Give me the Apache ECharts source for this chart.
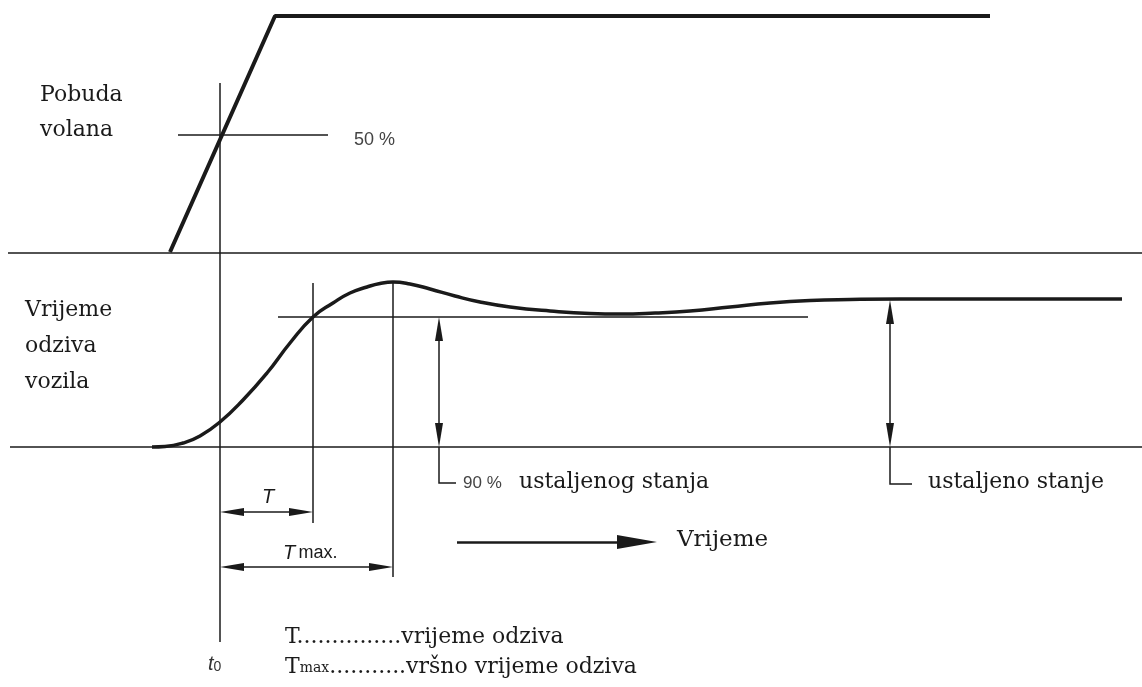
<!DOCTYPE html>
<html>
<head>
<meta charset="utf-8">
<script src="https://cdn.jsdelivr.net/npm/echarts@6/dist/echarts.min.js"></script>
<style>
  html, body { margin: 0; padding: 0; background: #fff; }
  #main { width: 1142px; height: 687px; }
</style>
</head>
<body>
<div id="main"></div>
<script>
// diagram units: x = time axis, y = vertical position (grows downward)
const steeringInput = [[170, 252], [275, 16], [990, 16]];
const vehicleResponse = [
  [152, 447], [165, 446.5], [183, 443], [200, 436], [220, 422], [243, 400],
  [267, 373], [290, 343], [313, 317], [333, 303], [350, 293], [367, 287],
  [380, 283.5], [393, 282], [410, 284], [430, 289], [455, 296], [480, 302],
  [510, 307], [550, 311], [590, 313.5], [620, 314], [655, 313], [690, 311],
  [730, 307], [770, 303], [810, 300.5], [850, 299.5], [900, 299], [1000, 299],
  [1122, 299]
];
// thin reference lines
const guideLines = [
  [[8, 253], [1142, 253]],   // input baseline
  [[10, 447], [1142, 447]],  // response baseline
  [[220, 83], [220, 642]],   // t0
  [[178, 135], [328, 135]],  // 50 %
  [[278, 317], [808, 317]],  // 90 %
  [[313, 283], [313, 523]],  // T
  [[393, 282], [393, 577]]   // Tmax
];
const leaderLines = [
  [[439, 447], [439, 483], [456, 483]],
  [[890, 447], [890, 484], [912, 484]]
];
const dimensionArrows = [
  [[220, 512], [313, 512]],
  [[220, 567], [393, 567]],
  [[439, 317], [439, 447]],
  [[890, 300], [890, 447]]
];
const timeArrow = [[457, 542], [657, 542]];

const smallHead = [8, 24];
const bigHead = [14, 40];

// pull the ends in so the arrow tips land on the end points
function inset(seg, headLen, both) {
  const a = seg[0], b = seg[1];
  const dx = b[0] - a[0], dy = b[1] - a[1];
  const len = Math.hypot(dx, dy);
  const ux = dx / len, uy = dy / len, d = headLen / 2;
  const start = both ? [a[0] + ux * d, a[1] + uy * d] : a;
  return [start, [b[0] - ux * d, b[1] - uy * d]];
}

const ink = '#1a1a1a';
const serif = 'DejaVu Serif';
const sans = 'Liberation Sans';

var myChart = echarts.init(document.getElementById('main'));

function label(x, y, text, size, extra) {
  return Object.assign({
    type: 'text',
    x: x,
    y: y,
    style: {
      text: text,
      font: size + 'px "' + serif + '"',
      fill: ink,
      verticalAlign: 'middle'
    }
  }, extra || {});
}

myChart.setOption({
  animation: false,
  backgroundColor: '#fff',
  grid: { left: 0, right: 0, top: 0, bottom: 0 },
  xAxis: { type: 'value', min: 0, max: 1142, show: false },
  yAxis: { type: 'value', min: 0, max: 687, inverse: true, show: false },
  series: [
    {
      name: 'Pobuda volana',
      type: 'line',
      data: steeringInput,
      showSymbol: false,
      lineStyle: { color: ink, width: 4 }
    },
    {
      name: 'Odziv vozila',
      type: 'line',
      data: vehicleResponse,
      showSymbol: false,
      smooth: 0.5,
      lineStyle: { color: ink, width: 3.5 }
    },
    {
      type: 'lines',
      coordinateSystem: 'cartesian2d',
      data: guideLines.map(function (c) { return { coords: c }; }),
      lineStyle: { color: ink, width: 1.5, opacity: 1 }
    },
    {
      type: 'lines',
      coordinateSystem: 'cartesian2d',
      polyline: true,
      data: leaderLines.map(function (c) { return { coords: c }; }),
      lineStyle: { color: ink, width: 1.5, opacity: 1 }
    },
    {
      type: 'lines',
      coordinateSystem: 'cartesian2d',
      symbol: ['triangle', 'triangle'],
      symbolSize: [smallHead, smallHead],
      data: dimensionArrows.map(function (c) { return { coords: inset(c, smallHead[1], true) }; }),
      lineStyle: { color: ink, width: 1.5, opacity: 1 }
    },
    {
      type: 'lines',
      coordinateSystem: 'cartesian2d',
      symbol: ['none', 'triangle'],
      symbolSize: [0, bigHead],
      data: [{ coords: inset(timeArrow, bigHead[1], false) }],
      lineStyle: { color: ink, width: 2.5, opacity: 1 }
    }
  ],
  graphic: [
    label(40, 95, 'Pobuda', 22),
    label(40, 130, 'volana', 22),
    label(25, 310, 'Vrijeme', 22),
    label(25, 346, 'odziva', 22),
    label(25, 382, 'vozila', 22),
    {
      type: 'text', x: 354, y: 140,
      style: { text: '50 %', font: '18px "' + sans + '"', fill: '#444', verticalAlign: 'middle' }
    },
    {
      type: 'text', x: 463, y: 483,
      style: { text: '90 %', font: '17px "' + sans + '"', fill: '#444', verticalAlign: 'middle' }
    },
    label(519, 482, 'ustaljenog stanja', 22),
    label(928, 482, 'ustaljeno stanje', 22),
    label(677, 540, 'Vrijeme', 23),
    {
      type: 'text', x: 262, y: 497,
      style: { text: 'T', font: 'italic 20px "' + sans + '"', fill: ink, verticalAlign: 'middle' }
    },
    {
      type: 'text', x: 283, y: 553,
      style: {
        text: '{t|T} {m|max.}',
        verticalAlign: 'middle',
        rich: {
          t: { font: 'italic 20px "' + sans + '"', fill: ink },
          m: { font: '18px "' + sans + '"', fill: ink }
        }
      }
    },
    {
      type: 'text', x: 208, y: 662,
      style: {
        text: '{t|t}{s|0}',
        verticalAlign: 'middle',
        rich: {
          t: { font: 'italic 20px "' + sans + '"', fill: '#333', lineHeight: 24, verticalAlign: 'bottom' },
          s: { font: '14px "' + sans + '"', fill: '#333', lineHeight: 24, verticalAlign: 'bottom' }
        }
      }
    },
    label(285, 637, 'T...............vrijeme odziva', 22),
    {
      type: 'text', x: 285, y: 664,
      style: {
        text: '{t|T}{s|max}{t|...........vršno vrijeme odziva}',
        verticalAlign: 'middle',
        rich: {
          t: { font: '22px "' + serif + '"', fill: ink, lineHeight: 28, verticalAlign: 'bottom' },
          s: { font: '14px "' + serif + '"', fill: ink, lineHeight: 28, verticalAlign: 'bottom', padding: [0, 0, 3, 0] }
        }
      }
    }
  ]
});
</script>
</body>
</html>
